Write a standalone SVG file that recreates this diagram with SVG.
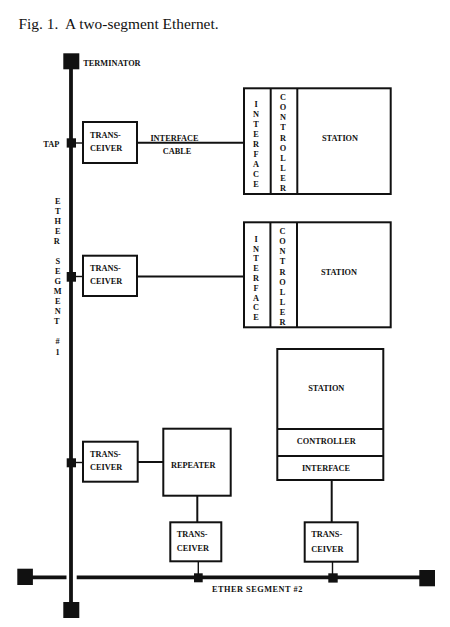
<svg xmlns="http://www.w3.org/2000/svg" width="450" height="627" viewBox="0 0 450 627">
<style>
.t{font-family:"Liberation Serif","Times New Roman",serif;font-weight:bold;font-size:8.3px;fill:#111}
.m{text-anchor:middle}
.box{fill:#fff;stroke:#111;stroke-width:2}
.bus{stroke:#111;stroke-width:3.8;fill:none}
.ln{stroke:#111;stroke-width:2;fill:none}
.thin{stroke:#111;stroke-width:1.4;fill:none}
.term{fill:#111}
</style>
<rect width="450" height="627" fill="#fff"/>
<text x="18.5" y="29" xml:space="preserve" style="font-family:'Liberation Serif','Times New Roman',serif;font-size:15.4px;fill:#111">Fig. 1.  A two-segment Ethernet.</text>

<g id="connectors">
  <line class="bus" x1="71" y1="61" x2="71" y2="610"/>
  <line class="bus" x1="32" y1="577.3" x2="66.5" y2="577.3"/>
  <line class="bus" x1="76.7" y1="577.3" x2="420" y2="577.3"/>
  <line class="thin" x1="76" y1="143" x2="83" y2="143"/>
  <line class="ln" x1="137" y1="142.7" x2="244" y2="142.7"/>
  <line class="thin" x1="76" y1="276.5" x2="83" y2="276.5"/>
  <line class="ln" x1="137" y1="276.5" x2="244" y2="276.5"/>
  <line class="thin" x1="76" y1="462.5" x2="83" y2="462.5"/>
  <line class="ln" x1="137.7" y1="462" x2="163.3" y2="462"/>
  <line class="ln" x1="197.3" y1="495.7" x2="197.3" y2="522.3"/>
  <line class="ln" x1="331.7" y1="480" x2="331.7" y2="522.3"/>
  <line class="thin" x1="198.3" y1="561.3" x2="198.3" y2="574"/>
  <line class="thin" x1="332.5" y1="561.7" x2="332.5" y2="574"/>
</g>

<g id="terminator-top">
  <rect class="term" x="63.3" y="53.3" width="16" height="16"/>
  <text class="t" x="83.3" y="65.7">TERMINATOR</text>
</g>
<g id="terminator-bottom">
  <rect class="term" x="63.3" y="602" width="16" height="16"/>
</g>
<g id="terminator-left">
  <rect class="term" x="17.3" y="568.7" width="15.6" height="16.3"/>
</g>
<g id="terminator-right">
  <rect class="term" x="419.3" y="570" width="15.7" height="16.3"/>
</g>

<g id="tap1">
  <rect class="term" x="66.7" y="138.3" width="9.3" height="9.3"/>
  <text class="t" x="43.3" y="147.3">TAP</text>
</g>
<g id="tap2"><rect class="term" x="66.7" y="272" width="9.3" height="9.7"/></g>
<g id="tap3"><rect class="term" x="66.7" y="458.3" width="9.3" height="9"/></g>
<g id="tap4"><rect class="term" x="194" y="573.3" width="8.7" height="9"/></g>
<g id="tap5"><rect class="term" x="328.3" y="573.3" width="9.4" height="9.3"/></g>

<g id="segment1-label">
  <text class="t m">
    <tspan x="57.7" y="204">E</tspan><tspan x="57.7" y="213.8">T</tspan><tspan x="57.7" y="223.8">H</tspan><tspan x="57.7" y="233.5">E</tspan><tspan x="57.7" y="243.5">R</tspan>
    <tspan x="57.7" y="263.5">S</tspan><tspan x="57.7" y="273.5">E</tspan><tspan x="57.7" y="283.5">G</tspan><tspan x="57.7" y="293.5">M</tspan><tspan x="57.7" y="303.5">E</tspan><tspan x="57.7" y="313.5">N</tspan><tspan x="57.7" y="323.5">T</tspan>
    <tspan x="57.7" y="343.8">#</tspan><tspan x="57.7" y="354.5">1</tspan>
  </text>
</g>
<g id="segment2-label">
  <text class="t" x="212" y="592" style="letter-spacing:0.5px">ETHER SEGMENT #2</text>
</g>

<g id="cable-label">
  <text class="t m" x="174.5" y="141">INTERFACE</text>
  <text class="t m" x="177" y="154">CABLE</text>
</g>

<g id="transceiver1">
  <rect class="box" x="83" y="122" width="54" height="41"/>
  <text class="t" x="90" y="137.5">TRANS-</text>
  <text class="t" x="90" y="150.7">CEIVER</text>
</g>
<g id="transceiver2">
  <rect class="box" x="83" y="255.7" width="54" height="40.3"/>
  <text class="t" x="90" y="271">TRANS-</text>
  <text class="t" x="90" y="284.3">CEIVER</text>
</g>
<g id="transceiver3">
  <rect class="box" x="83" y="441.7" width="54.7" height="40"/>
  <text class="t" x="90" y="456.8">TRANS-</text>
  <text class="t" x="90" y="470">CEIVER</text>
</g>
<g id="transceiver4">
  <rect class="box" x="170.3" y="522.3" width="51" height="39"/>
  <text class="t" x="176.7" y="537.4">TRANS-</text>
  <text class="t" x="176.7" y="551">CEIVER</text>
</g>
<g id="transceiver5">
  <rect class="box" x="304.7" y="522.3" width="53" height="39.4"/>
  <text class="t" x="311.3" y="537.4">TRANS-</text>
  <text class="t" x="311.3" y="551.5">CEIVER</text>
</g>

<g id="repeater">
  <rect class="box" x="163.3" y="428.7" width="67.4" height="67"/>
  <text class="t m" x="193.2" y="467.6">REPEATER</text>
</g>

<g id="station1">
  <rect class="box" x="244" y="88.3" width="146.7" height="105.7"/>
  <line class="ln" x1="270.7" y1="88.3" x2="270.7" y2="194"/>
  <line class="ln" x1="297.3" y1="88.3" x2="297.3" y2="194"/>
  <text class="t m">
    <tspan x="256" y="106.8">I</tspan><tspan x="256" y="116.8">N</tspan><tspan x="256" y="126.8">T</tspan><tspan x="256" y="136.8">E</tspan><tspan x="256" y="146.8">R</tspan><tspan x="256" y="156.8">F</tspan><tspan x="256" y="166.8">A</tspan><tspan x="256" y="176.8">C</tspan><tspan x="256" y="186.8">E</tspan>
  </text>
  <text class="t m">
    <tspan x="283" y="100.1">C</tspan><tspan x="283" y="110.2">O</tspan><tspan x="283" y="120.3">N</tspan><tspan x="283" y="130.4">T</tspan><tspan x="283" y="140.5">R</tspan><tspan x="283" y="150.6">O</tspan><tspan x="283" y="160.7">L</tspan><tspan x="283" y="170.8">L</tspan><tspan x="283" y="180.9">E</tspan><tspan x="283" y="191">R</tspan>
  </text>
  <text class="t m" x="340" y="140.7">STATION</text>
</g>

<g id="station2">
  <rect class="box" x="244" y="222.3" width="146.7" height="105"/>
  <line class="ln" x1="270.4" y1="222.3" x2="270.4" y2="327.3"/>
  <line class="ln" x1="297" y1="222.3" x2="297" y2="327.3"/>
  <text class="t m">
    <tspan x="256" y="241.8">I</tspan><tspan x="256" y="251.6">N</tspan><tspan x="256" y="261.4">T</tspan><tspan x="256" y="271.2">E</tspan><tspan x="256" y="281">R</tspan><tspan x="256" y="290.8">F</tspan><tspan x="256" y="300.6">A</tspan><tspan x="256" y="310.4">C</tspan><tspan x="256" y="320.2">E</tspan>
  </text>
  <text class="t m">
    <tspan x="282.5" y="234.1">C</tspan><tspan x="282.5" y="244.2">O</tspan><tspan x="282.5" y="254.3">N</tspan><tspan x="282.5" y="264.4">T</tspan><tspan x="282.5" y="274.5">R</tspan><tspan x="282.5" y="284.6">O</tspan><tspan x="282.5" y="294.7">L</tspan><tspan x="282.5" y="304.8">L</tspan><tspan x="282.5" y="314.9">E</tspan><tspan x="282.5" y="325">R</tspan>
  </text>
  <text class="t m" x="339" y="274.7">STATION</text>
</g>

<g id="station3">
  <rect class="box" x="277.3" y="349" width="106" height="131"/>
  <line class="ln" x1="277.3" y1="429" x2="383.3" y2="429"/>
  <line class="ln" x1="277.3" y1="456" x2="383.3" y2="456"/>
  <text class="t m" x="326.3" y="390.7">STATION</text>
  <text class="t m" x="326.3" y="443.7">CONTROLLER</text>
  <text class="t m" x="326" y="470.7">INTERFACE</text>
</g>
</svg>
